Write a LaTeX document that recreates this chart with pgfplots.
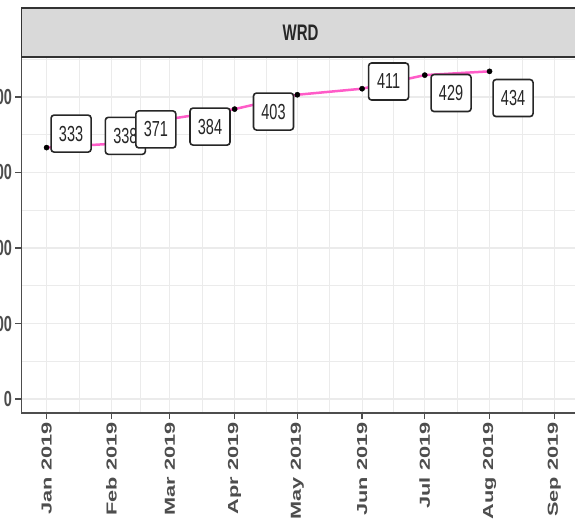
\documentclass[border=0pt]{standalone}
\usepackage{pgfplots}
\pgfplotsset{compat=1.18}
\usepackage{pgfplotstable}
\usepackage{graphicx}
\usepackage{fontspec}
\setmainfont{Liberation Sans}
\definecolor{pinkline}{HTML}{FF5CC8}
\definecolor{stripfill}{HTML}{D9D9D9}
\definecolor{gridc}{HTML}{EBEBEB}
\definecolor{axisc}{HTML}{4D4D4D}
\pgfplotstableread{
x y dx dy
0 333 24.5 14
31 338 14 8
59 371 -14 -10.5
90 384 -24.6 -17.5
120 403 -23.8 -16.8
151 411 26.5 7.2
181 429 26.3 -17.9
212 434 23.5 -26.7
}\wrd
\newcommand{\vs}[1]{\scalebox{1}[1.5]{#1}}
\newcommand{\hs}[1]{\scalebox{1.5}[1]{#1}}
\begin{document}
\begin{tikzpicture}
\path[use as bounding box, clip] (-21.5pt,-118pt) rectangle (553.5pt,413pt);
\fill[white] (-21.5pt,-118pt) rectangle (553.5pt,413pt);
\begin{axis}[
  at={(0pt,0pt)}, anchor=south west,
  scale only axis, width=557.9pt, height=356pt,
  xmin=-12, xmax=255, ymin=-18.5, ymax=453,
  clip=false,
  axis line style={axisc, line width=1.6pt},
  xtick={0,31,59,90,120,151,181,212,243},
  xticklabels={\hs{Jan 2019},\hs{Feb 2019},\hs{Mar 2019},\hs{Apr 2019},\hs{May 2019},\hs{Jun 2019},\hs{Jul 2019},\hs{Aug 2019},\hs{Sep 2019}},
  minor xtick={15.5,45,74.5,105,135.5,166,196.5,227.5},
  ytick={0,100,200,300,400},
  yticklabels={\vs{0},\vs{100},\vs{200},\vs{300},\vs{400}},
  minor ytick={50,150,250,350,450},
  grid=both,
  major grid style={gridc, line width=1.1pt},
  minor grid style={gridc, line width=0.6pt},
  tick align=outside, tick pos=left,
  major tick length=6pt, minor tick length=0pt,
  every tick/.style={axisc, line width=1.2pt},
  xticklabel style={rotate=90, anchor=east, font=\bfseries\fontsize{14.5}{15}\selectfont, text=axisc},
  yticklabel style={font=\bfseries\fontsize{14.5}{15}\selectfont, text=axisc},
]
\addplot[pinkline, line width=2.5pt, mark=none] table[x=x,y=y]{\wrd};
\addplot[only marks, mark=*, mark size=2.6pt, black] table[x=x,y=y]{\wrd};
\addplot[draw=none, mark=none,
  point meta=explicit symbolic,
  visualization depends on={\thisrow{dx}\as\dx},
  visualization depends on={\thisrow{dy}\as\dy},
  nodes near coords={\vs{\pgfplotspointmeta}},
  every node near coord/.append style={anchor=center, xshift=\dx, yshift=\dy,
    draw=black!85, line width=1.6pt, fill=white, rounded corners=3pt,
    minimum width=40pt, minimum height=37pt, inner sep=0pt,
    font=\fontsize{14.5}{14.5}\selectfont, text=black!85},
] table[x=x,y=y,meta=y]{\wrd};
\end{axis}
\draw[fill=stripfill, draw=black!80, line width=1.5pt] (0pt,356pt) rectangle (600pt,405pt);
\node[font=\bfseries\fontsize{15}{15}\selectfont, text=black!85] at (279pt,380.5pt) {\vs{WRD}};
\end{tikzpicture}
\end{document}
